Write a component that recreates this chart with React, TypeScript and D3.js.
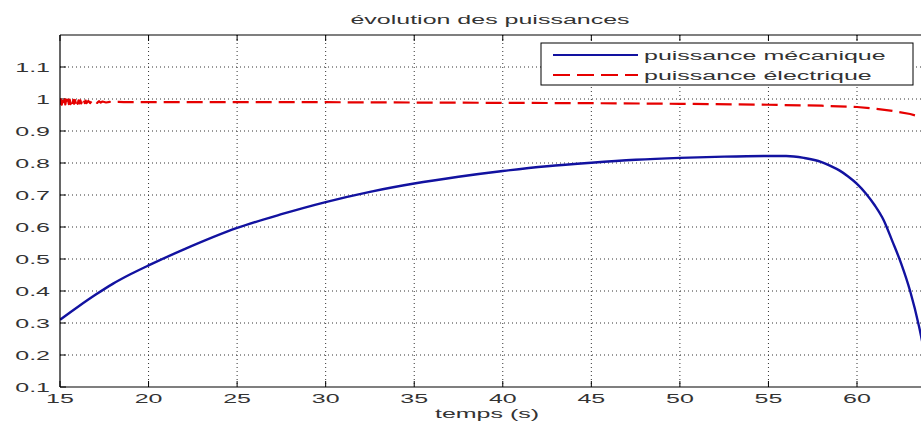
import React from "react";
import * as d3 from "d3";

const titleText = "évolution des puissances";
const xLabel = "temps (s)";
const legendLabels = ["puissance mécanique", "puissance électrique"];

const xTicks = [15, 20, 25, 30, 35, 40, 45, 50, 55, 60];
const yTicks = [0.1, 0.2, 0.3, 0.4, 0.5, 0.6, 0.7, 0.8, 0.9, 1.0, 1.1];

const mecaT = [15, 16, 17, 18, 19, 20, 22, 25, 27.5, 30, 32.5, 35, 37.5, 40, 42.5, 45, 47.5, 50, 52.5, 55, 56, 57, 58, 58.5, 59, 59.5, 60, 60.5, 61, 61.5, 62, 62.5, 63, 63.5, 64];
const mecaV = [0.31, 0.35, 0.388, 0.423, 0.453, 0.48, 0.53, 0.597, 0.64, 0.678, 0.71, 0.736, 0.757, 0.775, 0.79, 0.801, 0.81, 0.816, 0.82, 0.822, 0.822, 0.816, 0.803, 0.791, 0.777, 0.758, 0.735, 0.705, 0.668, 0.622, 0.555, 0.485, 0.4, 0.29, 0.15];

const elecT = [
  15, 15.05, 15.1, 15.15, 15.2, 15.25, 15.3, 15.35, 15.4, 15.45, 15.5, 15.55, 15.6, 15.65, 15.7, 15.75, 15.8, 15.85, 15.9, 15.95,
  16, 16.05, 16.1, 16.15, 16.2, 16.25, 16.3, 16.35, 16.4, 16.45, 16.5, 16.6, 16.7, 16.8, 16.9, 17, 17.1, 17.2, 17.3, 17.4,
  17.6, 17.8, 18, 18.3, 18.6, 19, 20, 22, 25, 30, 35, 40, 45, 50, 55, 58, 60, 61, 62, 63, 63.5, 64,
];
const elecV = [
  0.982, 0.999, 0.982, 0.999, 0.983, 0.999, 0.983, 0.998, 0.983, 0.998, 0.984, 0.998, 0.984, 0.997, 0.984, 0.997, 0.985, 0.997, 0.985, 0.996,
  0.985, 0.996, 0.986, 0.996, 0.986, 0.995, 0.986, 0.995, 0.987, 0.995, 0.987, 0.994, 0.987, 0.994, 0.988, 0.993, 0.988, 0.993, 0.989, 0.992,
  0.989, 0.991, 0.99, 0.991, 0.99, 0.99, 0.99, 0.99, 0.99, 0.99, 0.989, 0.988, 0.987, 0.985, 0.982, 0.979, 0.975, 0.97, 0.963, 0.953, 0.945, 0.932,
];

const W = 921;
const H = 425;
const SX = 2;
const FONT = "'Liberation Sans', Arial, sans-serif";

function T({ x, y, anchor = "start", size = 12.5, children }: any) {
  return (
    <g transform={`translate(${x},${y}) scale(${SX},1)`}>
      <text textAnchor={anchor} fontFamily={FONT} fontSize={size} fill="#333">
        {children}
      </text>
    </g>
  );
}

export default function App() {
  const x = d3.scaleLinear().domain([15, 64]).range([60, 60 + 49 * (797 / 45)]);
  const y = d3.scaleLinear().domain([0.1, 1.2]).range([387, 35]);
  const left = x(15);
  const right = x(64);
  const top = y(1.2);
  const bottom = y(0.1);

  const meca = d3
    .line<number>()
    .curve(d3.curveMonotoneX)
    .x((_, i) => x(mecaT[i]))
    .y((d) => y(d))(mecaV) as string;
  const elec = d3
    .line<number>()
    .x((_, i) => x(elecT[i]))
    .y((d) => y(d))(elecV) as string;

  const fmt = (v: number) => String(+v.toFixed(1));

  return (
    <svg width={W} height={H} style={{ position: "absolute", left: 0, top: 0, background: "#fff" }}>
      <rect x={0} y={0} width={W} height={H} fill="#fff" />
      <defs>
        <clipPath id="plot">
          <rect x={left} y={top} width={right - left} height={bottom - top} />
        </clipPath>
      </defs>
      {xTicks.slice(1).map((t) => (
        <line key={"gx" + t} x1={x(t)} x2={x(t)} y1={top} y2={bottom} stroke="#333" strokeWidth={1} strokeDasharray="1,3" />
      ))}
      {yTicks.slice(1).map((t) => (
        <line key={"gy" + t} x1={left} x2={right} y1={y(t)} y2={y(t)} stroke="#333" strokeWidth={1} strokeDasharray="1,3" />
      ))}
      {xTicks.map((t) => (
        <g key={"tx" + t}>
          <line x1={x(t)} x2={x(t)} y1={bottom} y2={bottom - 6} stroke="#000" />
          <line x1={x(t)} x2={x(t)} y1={top} y2={top + 6} stroke="#000" />
          <T x={x(t)} y={403} anchor="middle">{String(t)}</T>
        </g>
      ))}
      {yTicks.map((t) => (
        <g key={"ty" + t}>
          <line x1={left} x2={left + 6} y1={y(t)} y2={y(t)} stroke="#000" />
          <T x={50} y={y(t) + 4.5} anchor="end">{fmt(t)}</T>
        </g>
      ))}
      <g clipPath="url(#plot)">
        <path d={elec} fill="none" stroke="#e60000" strokeWidth={2.2} strokeDasharray="16,7" strokeLinejoin="round" />
        <path d={meca} fill="none" stroke="#1212a0" strokeWidth={2.4} />
      </g>
      <line x1={left} x2={left} y1={top} y2={bottom} stroke="#000" strokeWidth={1.2} />
      <line x1={left} x2={right} y1={bottom} y2={bottom} stroke="#000" strokeWidth={1.2} />
      <line x1={left} x2={right} y1={top} y2={top} stroke="#000" strokeWidth={1.2} />
      <line x1={right} x2={right} y1={top} y2={bottom} stroke="#000" strokeWidth={1.2} />
      <T x={490} y={24} anchor="middle">{titleText}</T>
      <T x={487} y={418} anchor="middle">{xLabel}</T>
      <rect x={541} y={43} width={372} height={42} fill="#fff" stroke="#000" strokeWidth={1} />
      <line x1={553} x2={638} y1={55} y2={55} stroke="#1212a0" strokeWidth={2} />
      <line x1={553} x2={638} y1={75} y2={75} stroke="#e60000" strokeWidth={2} strokeDasharray="17,7" />
      <T x={644} y={60}>{legendLabels[0]}</T>
      <T x={644} y={80}>{legendLabels[1]}</T>
    </svg>
  );
}
